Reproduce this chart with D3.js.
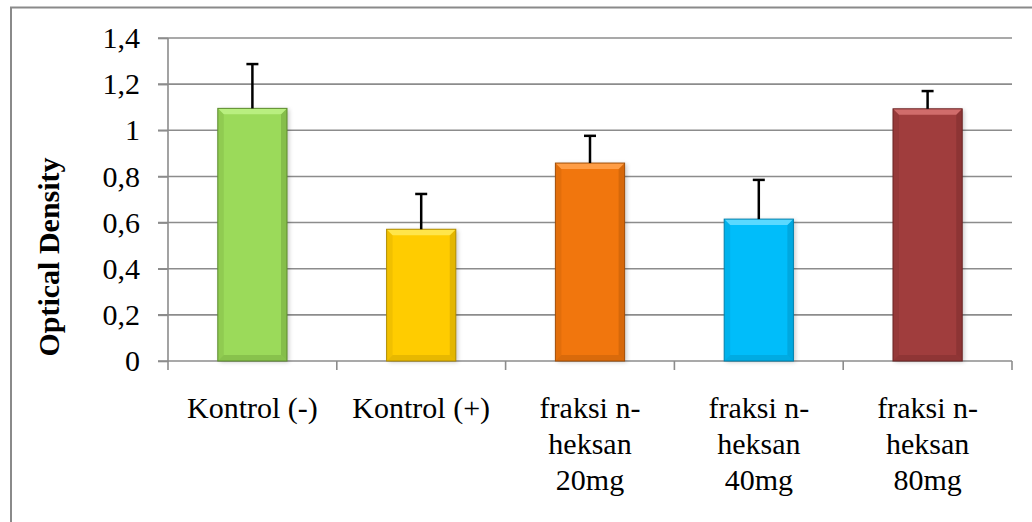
<!DOCTYPE html>
<html>
<head>
<meta charset="utf-8">
<script src="https://cdn.jsdelivr.net/npm/d3@7"></script>
<style>
  body { margin: 0; background: #fff; }
  svg { display: block; }
  svg text, svg tspan { font-family: "Liberation Serif", "Times New Roman", serif !important; }
</style>
</head>
<body>
<svg id="chart" width="1032" height="522"></svg>
<script>
const categories = ["Kontrol (-)", "Kontrol (+)", "fraksi n-\nheksan\n20mg", "fraksi n-\nheksan\n40mg", "fraksi n-\nheksan\n80mg"];
const values = [1.095, 0.571, 0.858, 0.615, 1.093];
const errors = [0.192, 0.153, 0.118, 0.170, 0.077];
const yTicks = [0, 0.2, 0.4, 0.6, 0.8, 1, 1.2, 1.4];
const barColors = ["#9bda5a", "#ffcc00", "#f1760f", "#03bdfa", "#a03e3d"];
const lightColors = ["#b9ef80", "#ffe54a", "#ff9d45", "#5ad9ff", "#d06c6b"];
const darkColors = ["#5c8a2e", "#b08c00", "#a24f07", "#0181ad", "#6a2626"];

const serif = "'Liberation Serif', 'Times New Roman', serif";
const svg = d3.select("#chart");
const margin = {left: 168, top: 38};
const plotRight = 1012;

// outer chart border (runs off right and bottom)
svg.append("path")
  .attr("d", "M11,530V7.5H1040")
  .attr("fill", "none")
  .attr("stroke", "#8a8a8a")
  .attr("stroke-width", 2);

const x = d3.scaleBand()
  .domain(d3.range(categories.length))
  .range([margin.left, plotRight])
  .paddingInner(0.59)
  .paddingOuter(0.295);

const y = d3.scaleLinear().domain([0, 1.4]).range([361, 38]);

const fmt = d3.formatLocale({decimal: ",", thousands: ".", grouping: [3], currency: ["", ""]}).format(".1~f");

const defs = svg.append("defs");
defs.append("filter").attr("id", "shadow")
  .attr("x", "-20%").attr("y", "-20%").attr("width", "140%").attr("height", "140%")
  .append("feDropShadow")
  .attr("dx", 2).attr("dy", 1).attr("stdDeviation", 2)
  .attr("flood-color", "#000").attr("flood-opacity", 0.22);

// gridlines
svg.append("g")
  .selectAll("line")
  .data(yTicks.slice(1))
  .join("line")
  .attr("x1", margin.left - 10).attr("x2", plotRight)
  .attr("y1", d => y(d)).attr("y2", d => y(d))
  .attr("stroke", "#8c8c8c").attr("stroke-width", 1.6);

// y axis
const yAxis = svg.append("g")
  .attr("transform", `translate(${margin.left},0)`)
  .call(d3.axisLeft(y).tickValues(yTicks).tickFormat(fmt).tickSize(10).tickPadding(18))
  .attr("font-family", null)
  .style("font-family", serif);
yAxis.select(".domain").attr("stroke", "#8c8c8c").attr("stroke-width", 1.6).attr("d", `M-10,${y(0)}H0V${y(1.4)}`);
yAxis.selectAll(".tick line").attr("stroke", "#8c8c8c").attr("stroke-width", 1.6);
yAxis.selectAll(".tick text")
  .attr("font-size", 30).attr("fill", "#000")
  .style("font-family", serif);

// x axis
const xTickPos = d3.range(categories.length + 1).map(i => margin.left + i * x.step());
const xAxis = svg.append("g");
xAxis.append("line")
  .attr("x1", margin.left).attr("x2", plotRight)
  .attr("y1", y(0)).attr("y2", y(0))
  .attr("stroke", "#8c8c8c").attr("stroke-width", 1.6);
xAxis.selectAll("line.tk")
  .data(xTickPos)
  .join("line").attr("class", "tk")
  .attr("x1", d => d).attr("x2", d => d)
  .attr("y1", y(0)).attr("y2", y(0) + 9)
  .attr("stroke", "#8c8c8c").attr("stroke-width", 1.6);

// bars with bevel
const b = 6;
const bars = svg.append("g")
  .selectAll("g")
  .data(values)
  .join("g")
  .attr("transform", (d, i) => `translate(${x(i)},${y(d)})`);

bars.each(function (d, i) {
  const g = d3.select(this);
  const w = x.bandwidth();
  const h = y(0) - y(d);
  g.append("rect")
    .attr("width", w).attr("height", h)
    .attr("fill", barColors[i])
    .attr("filter", "url(#shadow)");
  // sides slightly darker
  g.append("path")
    .attr("d", `M0,0L${b},${b}V${h - b}L0,${h}Z`)
    .attr("fill", darkColors[i]).attr("opacity", 0.18);
  g.append("path")
    .attr("d", `M${w},0L${w - b},${b}V${h - b}L${w},${h}Z`)
    .attr("fill", darkColors[i]).attr("opacity", 0.35);
  // top bevel light
  g.append("path")
    .attr("d", `M0,0H${w}L${w - b},${b}H${b}Z`)
    .attr("fill", lightColors[i]);
  // bottom bevel dark
  g.append("path")
    .attr("d", `M0,${h}H${w}L${w - b},${h - b}H${b}Z`)
    .attr("fill", darkColors[i]).attr("opacity", 0.3);
  g.append("rect")
    .attr("width", w).attr("height", h)
    .attr("fill", "none")
    .attr("stroke", darkColors[i]).attr("stroke-width", 1);
});

// error bars
const eb = svg.append("g").attr("stroke", "#000").attr("stroke-width", 2.5);
values.forEach((v, i) => {
  const cx = x(i) + x.bandwidth() / 2;
  eb.append("line")
    .attr("x1", cx).attr("x2", cx)
    .attr("y1", y(v)).attr("y2", y(v + errors[i]));
  eb.append("line")
    .attr("x1", cx - 6).attr("x2", cx + 6)
    .attr("y1", y(v + errors[i])).attr("y2", y(v + errors[i]));
});

// category labels
svg.append("g")
  .selectAll("text")
  .data(categories)
  .join("text")
  .attr("text-anchor", "middle")
  .attr("font-size", 30)
  .attr("fill", "#000")
  .style("font-family", serif)
  .attr("transform", (d, i) => `translate(${x(i) + x.bandwidth() / 2},418)`)
  .selectAll("tspan")
  .data(d => d.split("\n"))
  .join("tspan")
  .attr("x", 0)
  .attr("y", (d, j) => j * 36)
  .text(d => d);

// y title
svg.append("text")
  .attr("transform", "translate(59,257) rotate(-90)")
  .attr("text-anchor", "middle")
  .attr("font-size", 30)
  .attr("font-weight", "bold")
  .attr("fill", "#000")
  .style("font-family", serif)
  .text("Optical Density");
</script>
</body>
</html>
